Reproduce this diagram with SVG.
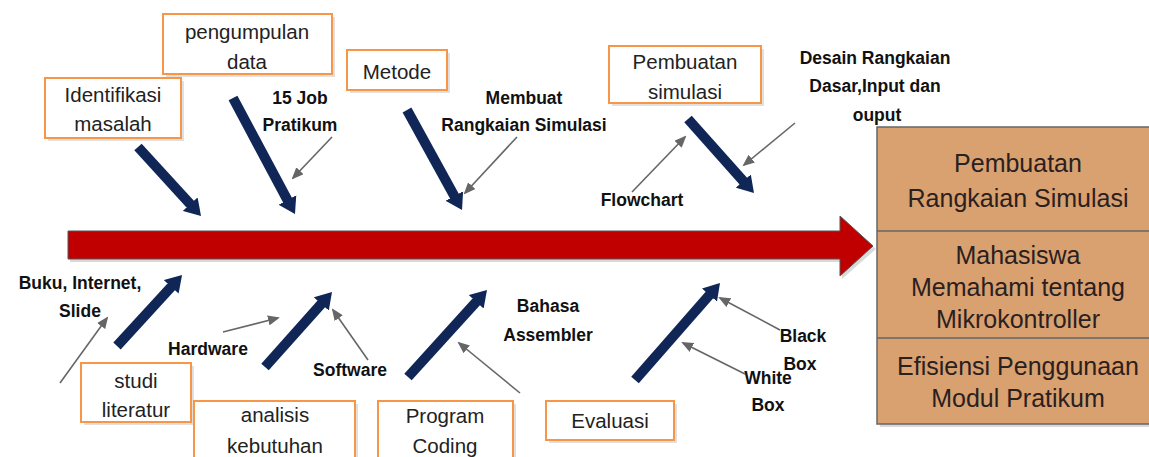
<svg xmlns="http://www.w3.org/2000/svg" width="1149" height="457" viewBox="0 0 1149 457">
<defs>
<style>
.box{fill:#fff;stroke:#F79646;stroke-width:2}
.shadow{fill:#000;opacity:0.12}
.bt{font-family:"Liberation Sans",Arial,sans-serif;font-size:20.5px;fill:#222;text-anchor:middle}
.lb{font-family:"Liberation Sans",Arial,sans-serif;font-size:17.5px;font-weight:bold;fill:#111;text-anchor:middle}
.rt{font-family:"Liberation Sans",Arial,sans-serif;font-size:25px;fill:#2a2020;text-anchor:middle}
.bone{stroke:#0F2657;stroke-width:10;fill:none;marker-end:url(#bh)}
.thin{stroke:#666;stroke-width:1.6;fill:none;marker-end:url(#th)}
</style>
<marker id="bh" viewBox="0 0 8 10" markerWidth="1.6" markerHeight="2.1" refX="0.5" refY="5" orient="auto" markerUnits="strokeWidth">
<path d="M0,0 L8,5 L0,10 z" fill="#0F2657"/>
</marker>
<marker id="th" viewBox="0 0 12 10" markerWidth="12" markerHeight="10" refX="10" refY="5" orient="auto" markerUnits="userSpaceOnUse">
<path d="M0,0 L12,5 L0,10 z" fill="#666"/>
</marker>
</defs>
<rect width="1149" height="457" fill="#fff"/>

<g id="spine">
<polygon points="70,234 842,234 842,219 876,249 842,279 842,262 70,262" fill="#000" opacity="0.15"/>
<polygon points="68,231 840,231 840,216 873,246 840,276 840,259 68,259" fill="#C00000" stroke="#555" stroke-width="1"/>
</g>

<g id="result">
<rect x="880" y="130" width="280" height="297" fill="#000" opacity="0.15"/>
<rect x="877" y="127" width="280" height="297" fill="#D9A070" stroke="#666" stroke-width="1.5"/>
<line x1="877" y1="231" x2="1149" y2="231" stroke="#666" stroke-width="1.5"/>
<line x1="877" y1="338" x2="1149" y2="338" stroke="#666" stroke-width="1.5"/>
<text class="rt" x="1018" y="172">Pembuatan</text>
<text class="rt" x="1018" y="207">Rangkaian Simulasi</text>
<text class="rt" x="1018" y="264">Mahasiswa</text>
<text class="rt" x="1018" y="296">Memahami tentang</text>
<text class="rt" x="1018" y="328">Mikrokontroller</text>
<text class="rt" x="1018" y="375">Efisiensi Penggunaan</text>
<text class="rt" x="1018" y="407">Modul Pratikum</text>
</g>

<g id="identifikasi">
<rect class="shadow" x="48" y="81" width="136" height="60"/>
<rect class="box" x="45" y="78" width="136" height="60"/>
<text class="bt" x="113" y="102">Identifikasi</text>
<text class="bt" x="113" y="131">masalah</text>
</g>
<g id="pengumpulan">
<rect class="shadow" x="166" y="17" width="169" height="60"/>
<rect class="box" x="163" y="14" width="169" height="60"/>
<text class="bt" x="247" y="39">pengumpulan</text>
<text class="bt" x="247" y="69">data</text>
</g>
<g id="metode">
<rect class="shadow" x="350" y="53" width="100" height="40"/>
<rect class="box" x="347" y="50" width="100" height="40"/>
<text class="bt" x="397" y="79">Metode</text>
</g>
<g id="pembuatan">
<rect class="shadow" x="612" y="49" width="152" height="57"/>
<rect class="box" x="609" y="46" width="152" height="57"/>
<text class="bt" x="685" y="69">Pembuatan</text>
<text class="bt" x="685" y="99">simulasi</text>
</g>
<g id="studi">
<rect class="shadow" x="84" y="366" width="110" height="59"/>
<rect class="box" x="81" y="363" width="110" height="59"/>
<text class="bt" x="136" y="388">studi</text>
<text class="bt" x="136" y="417">literatur</text>
</g>
<g id="analisis">
<rect class="shadow" x="197" y="404" width="161" height="60"/>
<rect class="box" x="194" y="401" width="161" height="60"/>
<text class="bt" x="275" y="422">analisis</text>
<text class="bt" x="275" y="453">kebutuhan</text>
</g>
<g id="program">
<rect class="shadow" x="381" y="404" width="135" height="60"/>
<rect class="box" x="378" y="401" width="135" height="60"/>
<text class="bt" x="445" y="423">Program</text>
<text class="bt" x="445" y="453">Coding</text>
</g>
<g id="evaluasi">
<rect class="shadow" x="549" y="404" width="128" height="39"/>
<rect class="box" x="546" y="401" width="128" height="39"/>
<text class="bt" x="610" y="428">Evaluasi</text>
</g>

<g id="labels">
<text class="lb" x="300" y="104">15 Job</text>
<text class="lb" x="300" y="131">Pratikum</text>
<text class="lb" x="524" y="104">Membuat</text>
<text class="lb" x="524" y="131">Rangkaian Simulasi</text>
<text class="lb" x="642" y="206">Flowchart</text>
<text class="lb" x="875" y="64">Desain Rangkaian</text>
<text class="lb" x="875" y="92">Dasar,Input dan</text>
<text class="lb" x="877" y="121">ouput</text>
<text class="lb" x="80" y="289">Buku, Internet,</text>
<text class="lb" x="80" y="317">Slide</text>
<text class="lb" x="208" y="355">Hardware</text>
<text class="lb" x="350" y="376">Software</text>
<text class="lb" x="548" y="312">Bahasa</text>
<text class="lb" x="548" y="341">Assembler</text>
<text class="lb" x="803" y="342">Black</text>
<text class="lb" x="800" y="370">Box</text>
<text class="lb" x="768" y="384">White</text>
<text class="lb" x="768" y="411">Box</text>
</g>

<g id="connectors">
<line class="bone" x1="138" y1="147" x2="190.9" y2="204.9"/>
<line class="bone" x1="233" y1="98" x2="287.9" y2="200.8"/>
<line class="bone" x1="407" y1="110" x2="454.8" y2="196.9"/>
<line class="bone" x1="688" y1="119" x2="744" y2="181.8"/>
<line class="bone" x1="117" y1="346" x2="171.9" y2="286.1"/>
<line class="bone" x1="265" y1="367" x2="322" y2="303.2"/>
<line class="bone" x1="408" y1="377" x2="476.9" y2="301.1"/>
<line class="bone" x1="635" y1="380" x2="710.1" y2="294.3"/>
<line class="thin" x1="332" y1="137" x2="293" y2="178"/>
<line class="thin" x1="517" y1="137" x2="465" y2="193"/>
<line class="thin" x1="632" y1="192" x2="685" y2="137"/>
<line class="thin" x1="795" y1="123" x2="744" y2="165"/>
<line class="thin" x1="60" y1="383" x2="107" y2="318"/>
<line class="thin" x1="223" y1="332" x2="278" y2="318"/>
<line class="thin" x1="368" y1="360" x2="333" y2="310"/>
<line class="thin" x1="520" y1="393" x2="459" y2="343"/>
<line class="thin" x1="780" y1="330" x2="720" y2="298"/>
<line class="thin" x1="745" y1="374" x2="683" y2="343"/>
</g>
</svg>
